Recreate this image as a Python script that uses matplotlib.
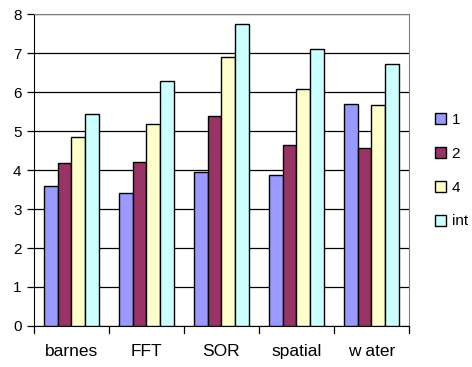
import numpy as np
import matplotlib.pyplot as plt
from matplotlib.patches import Patch

plt.rcParams['font.family'] = ['Liberation Sans', 'DejaVu Sans']

# Benchmarks and speedup per configuration
categorias = ["barnes", "FFT", "SOR", "spatial", "w ater"]
series = ["1", "2", "4", "int"]
valores_1 = [3.60, 3.42, 3.94, 3.87, 5.70]
valores_2 = [4.17, 4.20, 5.40, 4.65, 4.58]
valores_4 = [4.84, 5.18, 6.90, 6.07, 5.67]
valores_int = [5.44, 6.28, 7.74, 7.12, 6.73]

cores = ["#9999FF", "#993366", "#FFFFCC", "#CCFFFF"]
dados = [valores_1, valores_2, valores_4, valores_int]

fig = plt.figure(figsize=(4.72, 3.67), dpi=100)
ax = fig.add_axes([0.072, 0.112, 0.7945, 0.849])

x = np.arange(len(categorias))
largura = 0.183
for i, (vals, cor) in enumerate(zip(dados, cores)):
    ax.bar(x + (i - 1.5) * largura, vals, largura, color=cor,
           edgecolor="black", linewidth=1.0, zorder=3)

ax.set_xlim(-0.5, len(categorias) - 0.5)
ax.set_ylim(0, 8)
ax.set_yticks(range(0, 9))
ax.yaxis.grid(True, color="black", linewidth=0.9, zorder=0)

# category labels centred, tick marks at the boundaries
ax.set_xticks(x)
ax.set_xticklabels(categorias, fontsize=12.5)
ax.tick_params(axis="x", length=0, pad=13)
for b in np.arange(-0.5, len(categorias), 1.0):
    ax.plot([b, b], [0, -0.17], color="black", linewidth=0.9, clip_on=False)
ax.tick_params(axis="y", labelsize=11, length=5, width=0.9, direction="out", pad=4)

for lado in ["top", "right"]:
    ax.spines[lado].set_color("#808080")
ax.spines["left"].set_color("black")
ax.spines["bottom"].set_color("black")

handles = [Patch(facecolor=c, edgecolor="black", linewidth=1.0) for c in cores]
fig.legend(handles, series, loc="center left", bbox_to_anchor=(0.905, 0.535),
           frameon=False, fontsize=11, handlelength=0.75, handleheight=0.75,
           handletextpad=0.35, labelspacing=1.3, borderpad=0.0)

fig.savefig("out.png", dpi=100)
